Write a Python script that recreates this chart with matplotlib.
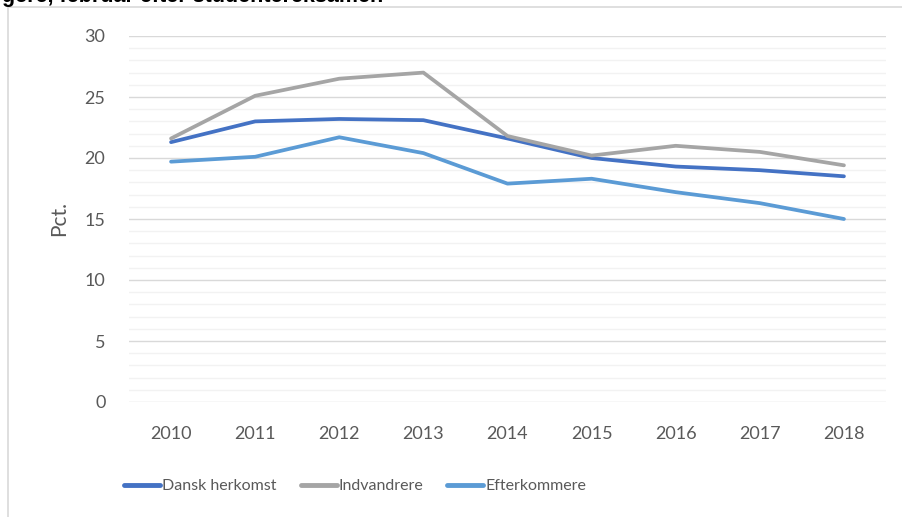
import matplotlib
matplotlib.use("Agg")
import matplotlib.pyplot as plt
from matplotlib.ticker import MultipleLocator
from matplotlib.patches import Rectangle

# data
years = ["2010", "2011", "2012", "2013", "2014", "2015", "2016", "2017", "2018"]
dansk = [21.3, 23.0, 23.2, 23.1, 21.6, 20.0, 19.3, 19.0, 18.5]
indvandrere = [21.6, 25.1, 26.5, 27.0, 21.8, 20.2, 21.0, 20.5, 19.4]
efterkommere = [19.7, 20.1, 21.7, 20.4, 17.9, 18.3, 17.2, 16.3, 15.0]

series_names = ["Dansk herkomst", "Indvandrere", "Efterkommere"]
colors = ["#4472C4", "#A5A5A5", "#5B9BD5"]

plt.rcParams['font.family'] = ['Lato', 'DejaVu Sans']
TXT = "#595959"

fig = plt.figure(figsize=(9.03, 5.17), dpi=100)
ax = fig.add_axes([129 / 903, 1 - 402 / 517, (886 - 129) / 903, (402 - 36) / 517])

# chart area border (cut off at right/bottom in the reference)
fig.patches.append(Rectangle((8 / 903, -0.1), 1.2, 1 - 7 / 517 + 0.1,
                             transform=fig.transFigure, fill=False,
                             ec="#d9d9d9", lw=1.2))

# title, mostly cut off at the top of the image
fig.text(2 / 903, 1 - 2 / 517, "gere, februar efter studentereksamen",
         family="Liberation Sans", fontweight="bold", fontsize=15.5,
         va="baseline", ha="left", color="black")

x = list(range(len(years)))
for vals, name, c in zip([dansk, indvandrere, efterkommere], series_names, colors):
    ax.plot(x, vals, color=c, lw=2.7, solid_capstyle="round",
            solid_joinstyle="round", label=name)

ax.set_xlim(-0.5, len(years) - 0.5)
ax.set_ylim(0, 30)
ax.yaxis.set_major_locator(MultipleLocator(5))
ax.yaxis.set_minor_locator(MultipleLocator(1))
ax.grid(axis="y", which="major", color="#d9d9d9", lw=1)
ax.grid(axis="y", which="minor", color="#f2f2f2", lw=1)
ax.set_axisbelow(True)
ax.set_xticks(x)
ax.set_xticklabels(years)
ax.tick_params(axis="both", which="both", length=0, labelsize=13, labelcolor=TXT)
ax.tick_params(axis="y", pad=17)
ax.tick_params(axis="x", pad=17)
for s in ax.spines.values():
    s.set_visible(False)

ax.set_ylabel("Pct.", fontsize=15, color=TXT, labelpad=11)

leg = fig.legend(loc="center left", bbox_to_anchor=(118 / 903, 1 - 486 / 517),
                 ncol=3, frameon=False, fontsize=11.5, handlelength=2.25,
                 handletextpad=0.12, columnspacing=1.5, borderaxespad=0)
for t in leg.get_texts():
    t.set_color(TXT)
for h in leg.get_lines():
    h.set_linewidth(3.5)

fig.savefig("out.png", dpi=100)
